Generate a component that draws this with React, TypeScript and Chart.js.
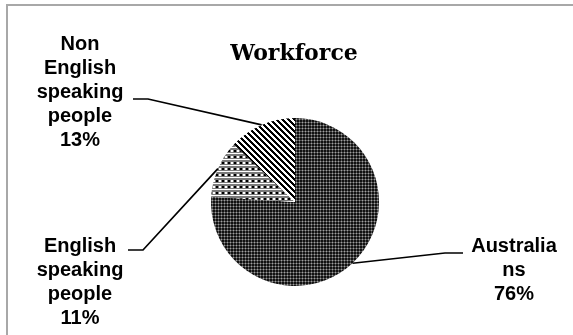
import React, { useEffect, useRef } from "react";
import { Chart, registerables } from "chart.js";

Chart.register(...registerables);

const categories = ["Australians", "English speaking people", "Non English speaking people"];
const values = [76, 11, 13];
const labelLines = [["Australia", "ns"], ["English", "speaking", "people"], ["Non", "English", "speaking", "people"]];
const chartTitle = "Workforce";

function makeTile(size: number, paint: (x: number, y: number) => string): CanvasPattern | string {
  const c = document.createElement("canvas");
  c.width = size;
  c.height = size;
  const g = c.getContext("2d");
  if (!g) return "#444";
  for (let y = 0; y < size; y++) {
    for (let x = 0; x < size; x++) {
      g.fillStyle = paint(x, y);
      g.fillRect(x, y, 1, 1);
    }
  }
  const p = g.createPattern(c, "repeat");
  return p || "#444";
}

export default function App() {
  const ref = useRef<HTMLCanvasElement | null>(null);
  useEffect(() => {
    document.body.style.margin = "0";
    document.body.style.overflow = "hidden";
    const canvas = ref.current;
    if (!canvas) return;

    const ausPattern = makeTile(3, (x, y) => {
      if (x === 2 && y === 2) return "#a0a0a0";
      if (x === 2 || y === 2) return "#505050";
      return "#111111";
    });
    const engPattern = makeTile(6, (x, y) => {
      if (y < 2) {
        if (x < 2) return "#000000";
        if (x >= 3 && x < 5) return "#ffffff";
        return "#808080";
      }
      if (y === 3) return "#ffffff";
      return "#7a7a7a";
    });
    const nonPattern = makeTile(6, (x, y) => {
      const d = (((x - y) % 6) + 6) % 6;
      return d < 3 ? "#000000" : "#ffffff";
    });

    const labelPos = [
      { x: 514, y: 252, elbow: { x: 445, y: 253 }, end: { x: 463, y: 253 } },
      { x: 80, y: 252, elbow: { x: 143, y: 250 }, end: { x: 128, y: 250 } },
      { x: 80, y: 50, elbow: { x: 148, y: 99 }, end: { x: 133, y: 99 } },
    ];

    const overlay = {
      id: "overlay",
      afterDraw(chart: any) {
        const ctx = chart.ctx as CanvasRenderingContext2D;
        ctx.save();
        ctx.strokeStyle = "#a8a8a8";
        ctx.lineWidth = 2;
        ctx.strokeRect(7, 5, 700, 500);
        ctx.fillStyle = "#000";
        ctx.font = "bold 22px 'DejaVu Serif'";
        ctx.textAlign = "center";
        ctx.textBaseline = "alphabetic";
        ctx.fillText(chartTitle, 294, 60);
        const meta = chart.getDatasetMeta(0);
        const total = values.reduce((a, b) => a + b, 0);
        meta.data.forEach((arc: any, i: number) => {
          const mid = (arc.startAngle + arc.endAngle) / 2;
          const px = arc.x + Math.cos(mid) * arc.outerRadius;
          const py = arc.y + Math.sin(mid) * arc.outerRadius;
          const lp = labelPos[i];
          ctx.strokeStyle = "#000";
          ctx.lineWidth = 1.7;
          ctx.beginPath();
          ctx.moveTo(px, py);
          ctx.lineTo(lp.elbow.x, lp.elbow.y);
          ctx.lineTo(lp.end.x, lp.end.y);
          ctx.stroke();
          const lines = [...labelLines[i], Math.round((values[i] / total) * 100) + "%"];
          ctx.font = "bold 20px 'Liberation Sans', Arial, sans-serif";
          ctx.fillStyle = "#000";
          ctx.textAlign = "center";
          lines.forEach((t, k) => ctx.fillText(t, lp.x, lp.y + k * 24));
        });
        ctx.restore();
      },
    };

    const chart = new Chart(canvas, {
      type: "pie",
      data: {
        labels: categories,
        datasets: [
          {
            data: values,
            backgroundColor: [ausPattern, engPattern, nonPattern] as any,
            borderWidth: 0,
          },
        ],
      },
      options: {
        animation: false,
        responsive: false,
        maintainAspectRatio: false,
        layout: { padding: { left: 211, right: 194, top: 118, bottom: 49 } },
        plugins: {
          legend: { display: false },
          title: { display: false },
          tooltip: { enabled: false },
        },
      },
      plugins: [overlay],
    });
    return () => chart.destroy();
  }, []);
  return (
    <div style={{ width: 573, height: 335, background: "#fff" }}>
      <canvas ref={ref} width={573} height={335} style={{ display: "block" }} />
    </div>
  );
}
